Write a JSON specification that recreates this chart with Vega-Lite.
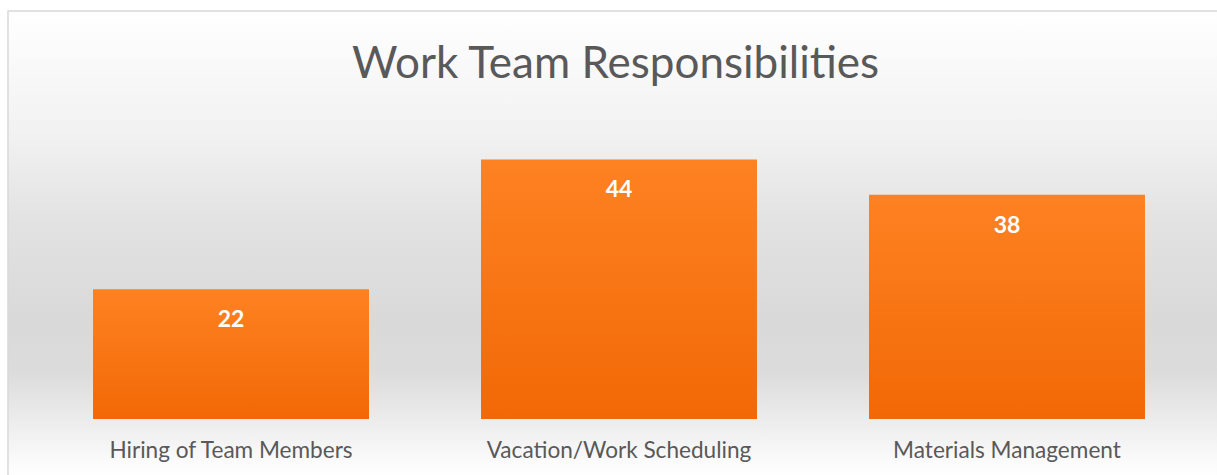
{
  "$schema": "https://vega.github.io/schema/vega-lite/v6.json",
  "autosize": "none",
  "padding": {"left": 8, "top": 11, "right": 0, "bottom": 0},
  "width": 1215,
  "height": 470,
  "background": "#ffffff",
  "config": {
    "view": {
      "stroke": "#d9d9d9",
      "strokeWidth": 1.5,
      "fill": {
        "gradient": "linear",
        "x1": 0, "y1": 0, "x2": 0, "y2": 1,
        "stops": [
          {"offset": 0, "color": "#ffffff"},
          {"offset": 0.27, "color": "#f1f1f1"},
          {"offset": 0.45, "color": "#e2e2e2"},
          {"offset": 0.66, "color": "#d9d9d9"},
          {"offset": 0.77, "color": "#dcdcdc"},
          {"offset": 0.87, "color": "#ececec"},
          {"offset": 0.96, "color": "#fbfbfb"},
          {"offset": 1, "color": "#ffffff"}
        ]
      }
    }
  },
  "title": {
    "text": "Work Team Responsibilities",
    "font": "Lato",
    "fontSize": 44,
    "fontWeight": "normal",
    "color": "#595959",
    "anchor": "middle",
    "baseline": "middle",
    "offset": -51,
    "dy": 47
  },
  "data": {
    "values": [
      {"category": "Hiring of Team Members", "value": 22},
      {"category": "Vacation/Work Scheduling", "value": 44},
      {"category": "Materials Management", "value": 38}
    ]
  },
  "encoding": {
    "x": {
      "field": "category",
      "type": "nominal",
      "sort": null,
      "axis": null,
      "scale": {"paddingInner": 0.2887, "paddingOuter": 0.2101, "align": 0.5215}
    }
  },
  "layer": [
    {
      "mark": {
        "type": "bar",
        "fill": {
          "gradient": "linear",
          "x1": 0, "y1": 0, "x2": 0, "y2": 1,
          "stops": [
            {"offset": 0, "color": "#fe8222"},
            {"offset": 1, "color": "#f26806"}
          ]
        }
      },
      "encoding": {
        "y": {
          "field": "value",
          "type": "quantitative",
          "axis": null,
          "scale": {"domain": [-10.508, 69.153], "nice": false, "zero": false}
        }
      }
    },
    {
      "mark": {
        "type": "text",
        "font": "Lato",
        "fontSize": 23,
        "fontWeight": "bold",
        "color": "#ffffff",
        "baseline": "middle",
        "dy": 31
      },
      "encoding": {
        "y": {"field": "value", "type": "quantitative"},
        "text": {"field": "value", "type": "quantitative"}
      }
    },
    {
      "mark": {
        "type": "text",
        "font": "Lato",
        "fontSize": 22.6,
        "color": "#595959",
        "baseline": "middle"
      },
      "encoding": {
        "y": {"datum": -5.42, "type": "quantitative"},
        "text": {"field": "category", "type": "nominal"}
      }
    }
  ]
}
